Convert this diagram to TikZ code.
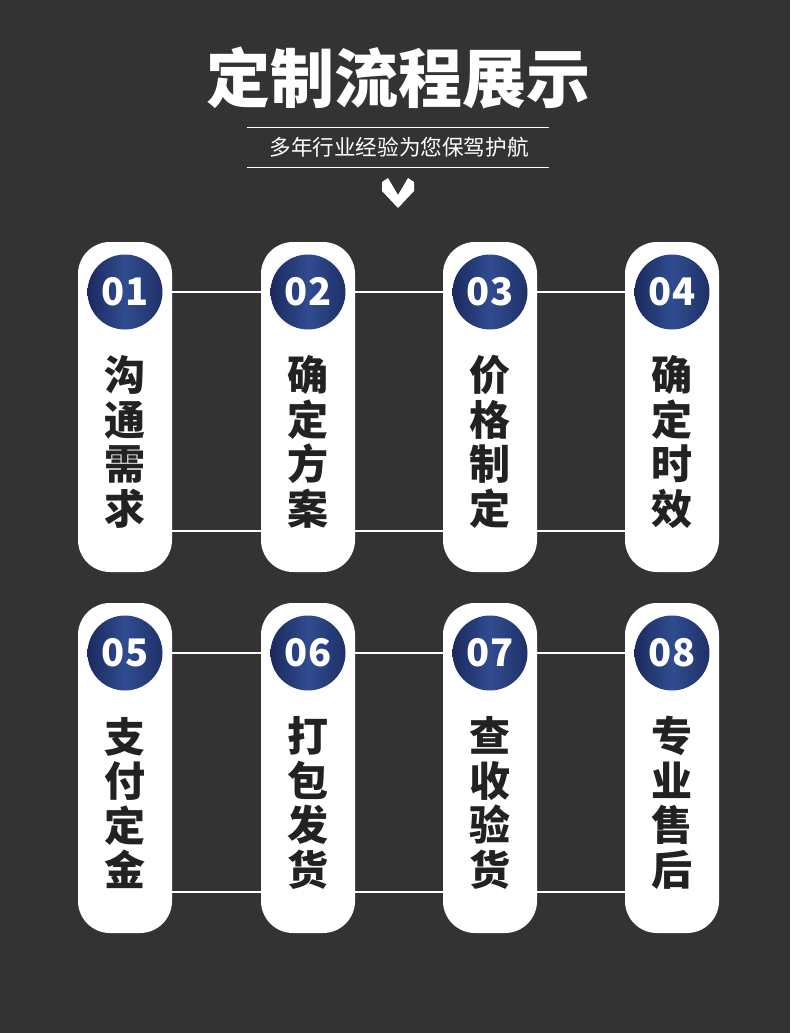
\documentclass[tikz,border=0pt]{standalone}
\usepackage{fontspec}
\usetikzlibrary{calc}
\newfontfamily\cjk{Noto Sans CJK SC}
\definecolor{Backdrop}{HTML}{333333}
\definecolor{Ink}{HTML}{222222}
\definecolor{NavyDeep}{HTML}{1B2A5E}
\definecolor{NavyLight}{HTML}{304C90}
\tikzset{pill/.style={fill=white,rounded corners=32pt,minimum width=94pt,
    minimum height=330pt,inner sep=0pt},
  numdot/.style={circle,minimum size=75pt,inner sep=0pt,left color=NavyDeep,
    right color=NavyDeep!80!NavyLight,middle color=NavyLight,text=white,
    font=\cjk\bfseries\fontsize{38}{38}\selectfont},
  stepword/.style={text=Ink,align=center,inner sep=0pt,
    font=\cjk\bfseries\fontsize{41}{44.5}\selectfont},
  link/.style={draw=white,line width=2pt},
  rule/.style={draw=white,line width=1pt}}

\begin{document}
\begin{tikzpicture}[x=1pt,y=-1pt]
  \fill[Backdrop] (0,0) rectangle (790,1033);
  \useasboundingbox (0,0) rectangle (790,1033);
  % heading
  \node[text=white,font=\cjk\bfseries\fontsize{64}{64}\selectfont] (title) at (398,78) {定制流程展示};
  \node[text=white,font=\cjk\fontsize{21.6}{21.6}\selectfont] (tagline) at (399,147) {多年行业经验为您保驾护航};
  \draw[rule] (247,127) -- (549,127);
  \draw[rule] (247,167) -- (549,167);
  \fill[white] (382,182) -- (388,178) -- (398,195) -- (408,178) -- (414,182)
    -- (414,191) -- (398,208) -- (382,191) -- cycle;
  % steps
  \foreach \i/\x/\y/\num/\word in {1/125/407/01/{沟\\通\\需\\求},2/308/407/02/{确\\定\\方\\案},
      3/490/407/03/{价\\格\\制\\定},4/672/407/04/{确\\定\\时\\效},
      5/125/768/05/{支\\付\\定\\金},6/308/768/06/{打\\包\\发\\货},
      7/490/768/07/{查\\收\\验\\货},8/672/768/08/{专\\业\\售\\后}}{
    \node[pill] (p\i) at (\x,\y) {};
    \node[numdot] (d\i) at (\x,\y-115) {\num};
    \node[stepword] (w\i) at (\x,\y+35) {\word};
  }
  \foreach \a/\b in {1/2,2/3,3/4,5/6,6/7,7/8}{
    \draw[link] (d\a -| p\a.east) -- (d\b -| p\b.west);
    \draw[link] ($(p\a.south east)+(0,-41)$) -- ($(p\b.south west)+(0,-41)$);
  }
\end{tikzpicture}
\end{document}
